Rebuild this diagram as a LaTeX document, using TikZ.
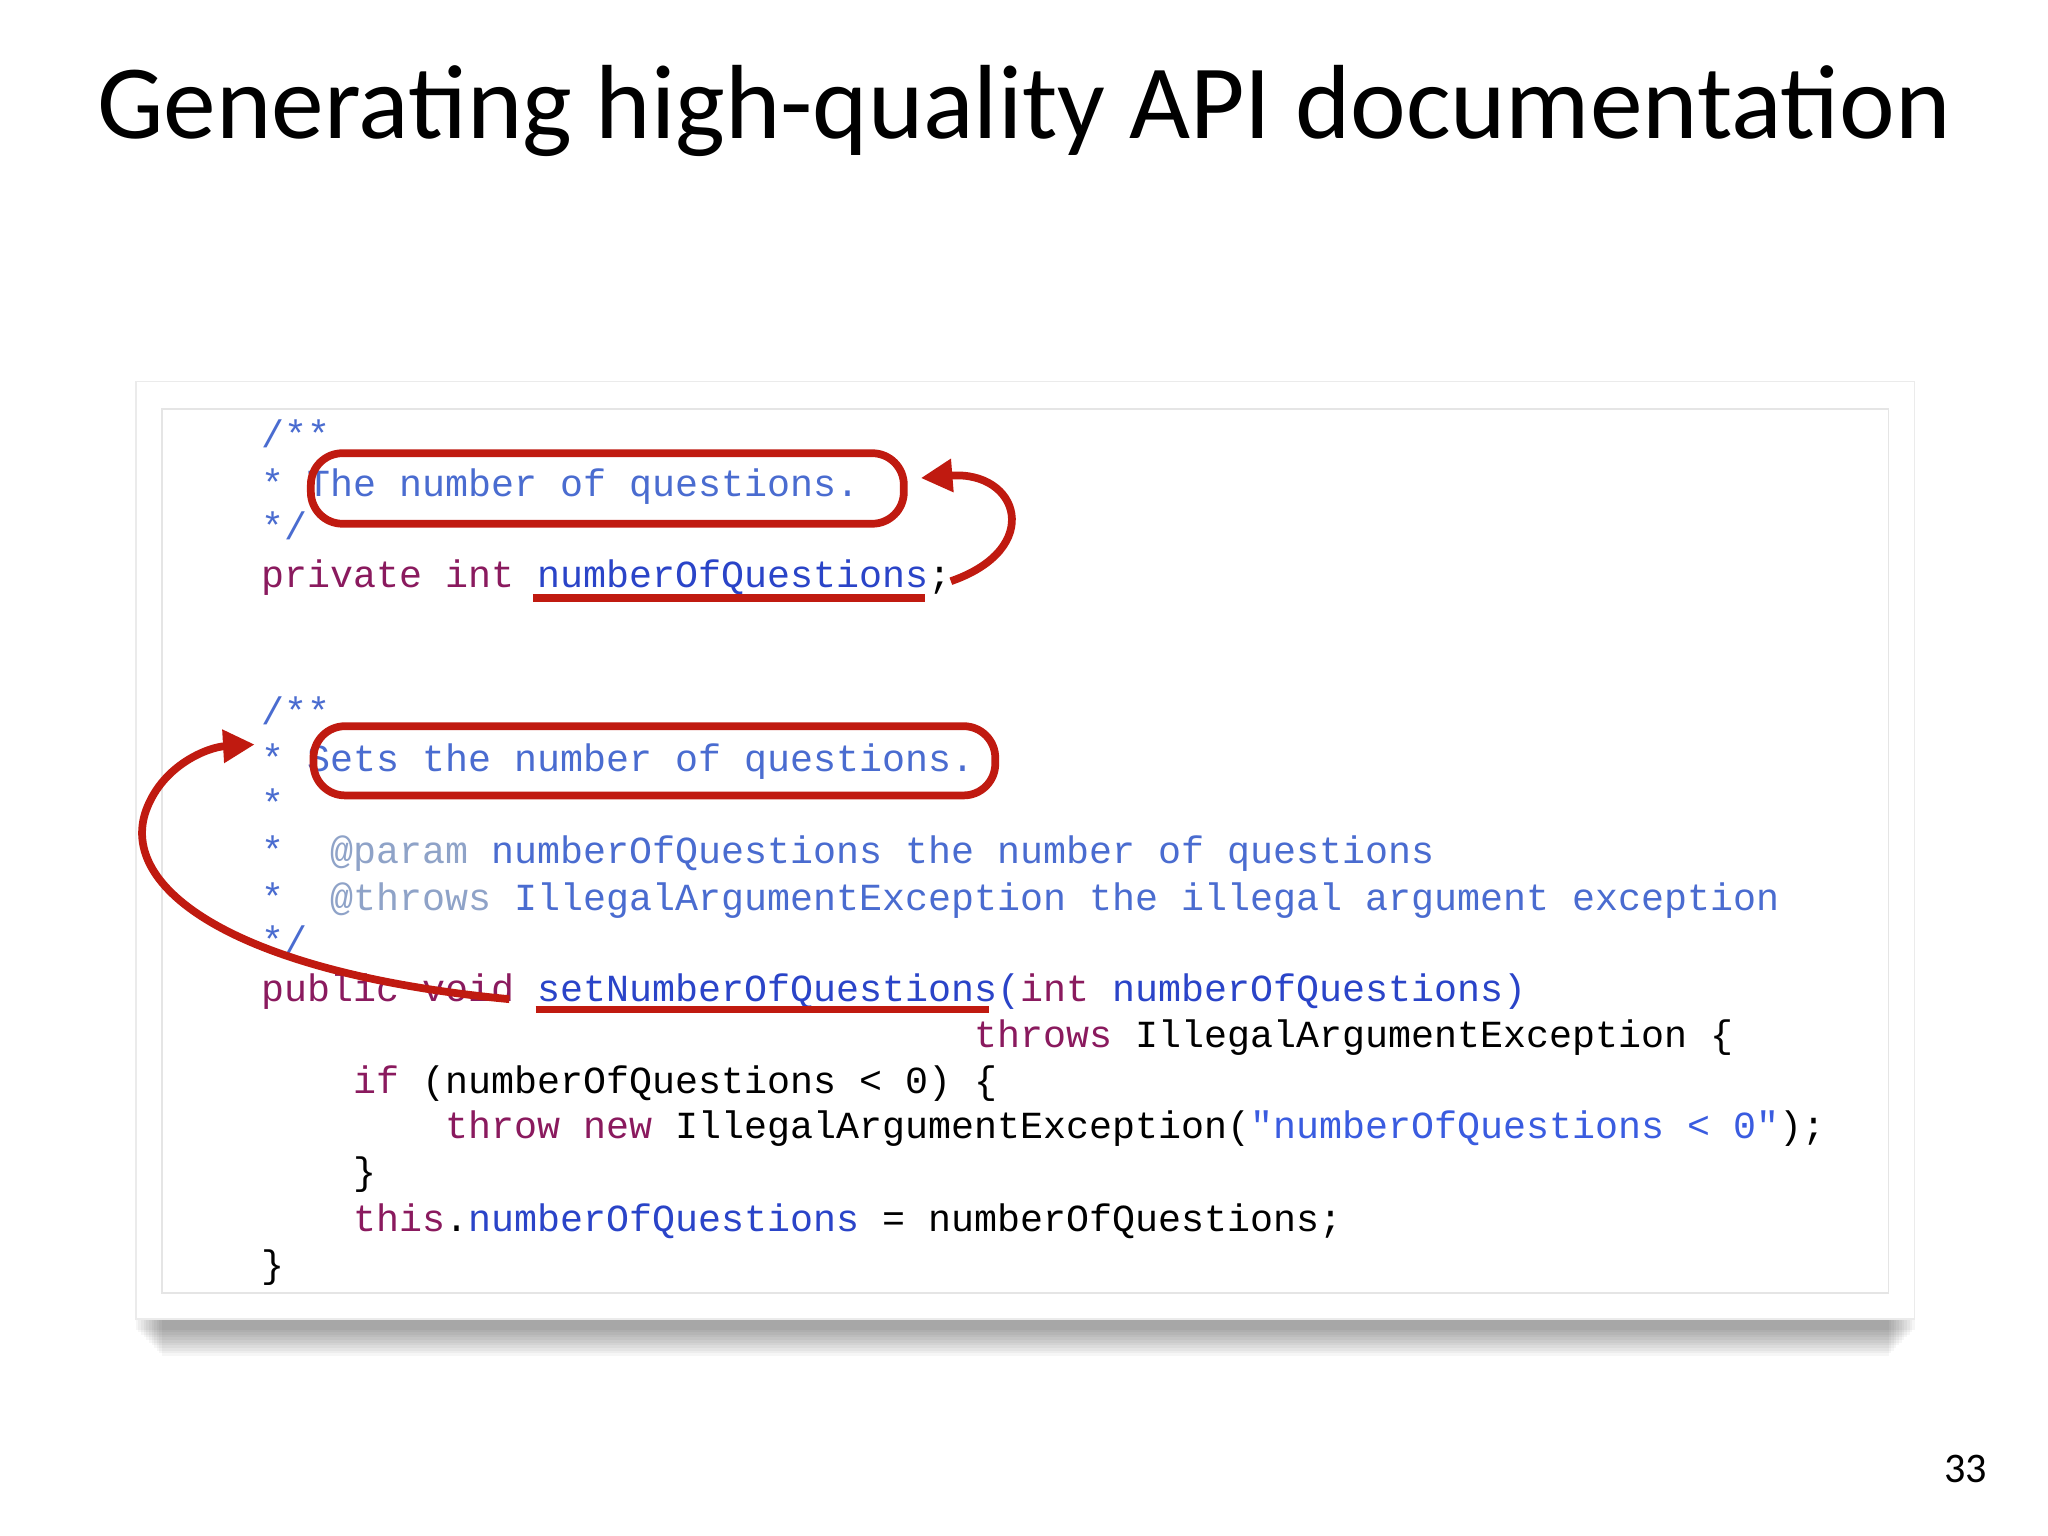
\documentclass[tikz,border=0pt]{standalone}
\usepackage{fontspec}
\setmainfont{Carlito}
\setmonofont{Liberation Mono}
\usetikzlibrary{arrows.meta}
\definecolor{cmt}{HTML}{4A6CD0}
\definecolor{kw}{HTML}{8A1A5E}
\definecolor{tag}{HTML}{8FA3C8}
\definecolor{fld}{HTML}{2A44C8}
\definecolor{str}{HTML}{3A5CE0}
\definecolor{redl}{HTML}{C01A10}
\tikzset{
  seg/.style={anchor=base west,inner sep=0pt,font=\fontsize{10.9}{13}\selectfont\ttfamily},
  redbox/.style={draw=redl,line width=2.2pt,rounded corners=9pt},
  redline/.style={draw=redl,line width=2.2pt},
  redarrow/.style={draw=redl,line width=2.2pt,-{Triangle[length=9pt,width=9pt]}}
}
\newcommand{\sg}[5]{\node[seg,text=#4] (#1) at ({200+17.6*#2},#3) {#5};}
\begin{document}
\begin{tikzpicture}[x=0.01306cm,y=-0.01306cm]
\fill[white] (0,0) rectangle (1568,1176);
\useasboundingbox (0,0) rectangle (1568,1176);
% shadow
\foreach \i in {0,...,10}{
  \fill[black,opacity=0.035] ({104+\i*2},1008) rectangle ({1466-\i*2},{1018+\i*2});
}
\fill[white] (104,292) rectangle (1466,1010);
\draw[black!8] (104,292) rectangle (1466,1010);
\draw[black!10] (124,313) rectangle (1446,990);
\node[font=\fontsize{30}{36}\selectfont] (title) at (784,85) {Generating high-quality API documentation};
\node[font=\fontsize{12}{14}\selectfont] (pg) at (1505,1125) {33};
% code
\sg{a1}{0}{343}{cmt}{/**}
\sg{a2}{0}{380}{cmt}{ * The number of questions.}
\sg{a3}{0}{413}{cmt}{ */}
\sg{a4}{0}{450}{kw}{private int}
\sg{a5}{12}{450}{fld}{numberOfQuestions}
\sg{a6}{29}{450}{black}{;}
\sg{b1}{0}{555}{cmt}{/**}
\sg{b2}{0}{591}{cmt}{ * Sets the number of questions.}
\sg{b3}{0}{625}{cmt}{ *}
\sg{b4}{0}{661}{cmt}{ *}
\sg{b5}{3}{661}{tag}{@param}
\sg{b6}{10}{661}{cmt}{numberOfQuestions the number of questions}
\sg{b7}{0}{697}{cmt}{ *}
\sg{b8}{3}{697}{tag}{@throws}
\sg{b9}{11}{697}{cmt}{IllegalArgumentException the illegal argument exception}
\sg{b10}{0}{730}{cmt}{ */}
\sg{c1}{0}{767}{kw}{public void}
\sg{c2}{12}{767}{fld}{setNumberOfQuestions}
\sg{c3}{32}{767}{fld}{(}
\sg{c4}{33}{767}{kw}{int}
\sg{c5}{37}{767}{fld}{numberOfQuestions)}
\sg{c6}{31}{802}{kw}{throws}
\sg{c7}{38}{802}{black}{IllegalArgumentException \{}
\sg{d1}{4}{837}{kw}{if}
\sg{d2}{7}{837}{black}{(numberOfQuestions < 0) \{}
\sg{d3}{8}{872}{kw}{throw new}
\sg{d4}{18}{872}{black}{IllegalArgumentException(}
\sg{d5}{43}{872}{str}{"numberOfQuestions < 0"}
\sg{d6}{66}{872}{black}{);}
\sg{d7}{4}{907}{black}{\}}
\sg{d8}{4}{943}{kw}{this}
\sg{d9}{8}{943}{black}{.}
\sg{d10}{9}{943}{fld}{numberOfQuestions}
\sg{d11}{27}{943}{black}{= numberOfQuestions;}
\sg{d12}{0}{978}{black}{\}}
% annotations
\draw[redbox] (238,347) rectangle (692,401);
\draw[redbox] (240,556) rectangle (762,609);
\draw[redline] (408,458) -- (708,458);
\draw[redline] (410,773) -- (757,773);
\coordinate (s1) at (728,445);
\coordinate (e1) at (705,366);
\draw[redarrow] (s1) .. controls (800,420) and (780,360) .. (e1);
\coordinate (s2) at (390,765);
\coordinate (e2) at (195,570);
\draw[redarrow] (s2) .. controls (180,745) and (90,680) .. (112,620) .. controls (125,585) and (160,572) .. (e2);
\end{tikzpicture}
\end{document}
